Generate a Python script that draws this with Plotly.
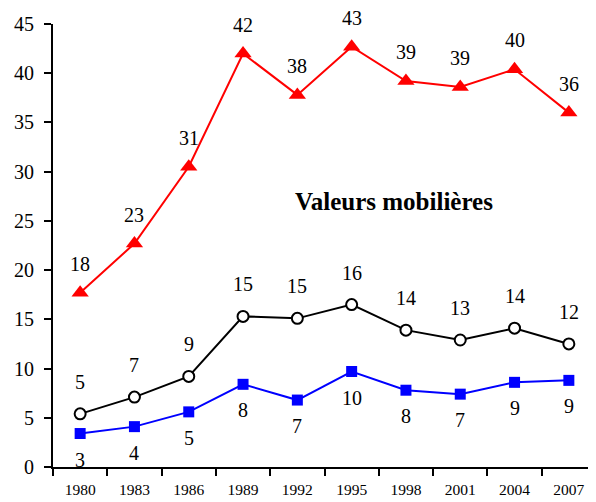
import plotly.graph_objects as go

years = ["1980", "1983", "1986", "1989", "1992", "1995", "1998", "2001", "2004", "2007"]
valeurs_mobilieres = [17.7, 22.7, 30.5, 42.0, 37.8, 42.7, 39.2, 38.6, 40.4, 36.0]
valeurs_mobilieres_labels = ["18", "23", "31", "42", "38", "43", "39", "39", "40", "36"]
serie_noire = [5.4, 7.1, 9.2, 15.3, 15.1, 16.5, 13.9, 12.9, 14.1, 12.5]
serie_noire_labels = ["5", "7", "9", "15", "15", "16", "14", "13", "14", "12"]
serie_bleue = [3.4, 4.1, 5.6, 8.4, 6.8, 9.7, 7.8, 7.4, 8.6, 8.8]
serie_bleue_labels = ["3", "4", "5", "8", "7", "10", "8", "7", "9", "9"]
y_ticks = [0, 5, 10, 15, 20, 25, 30, 35, 40, 45]

SERIF = "'Liberation Serif', 'Times New Roman', serif"

fig = go.Figure()
fig.add_trace(go.Scatter(
    x=years, y=valeurs_mobilieres, mode="lines+markers",
    line=dict(color="#ff0000", width=2),
    marker=dict(symbol="triangle-up", size=15, color="#ff0000"),
    showlegend=False))
fig.add_trace(go.Scatter(
    x=years, y=serie_noire, mode="lines+markers",
    line=dict(color="#000000", width=2),
    marker=dict(symbol="circle", size=11, color="#ffffff",
                line=dict(color="#000000", width=2)),
    showlegend=False))
fig.add_trace(go.Scatter(
    x=years, y=serie_bleue, mode="lines+markers",
    line=dict(color="#0000ff", width=2),
    marker=dict(symbol="square", size=11, color="#0000ff"),
    showlegend=False))

annotations = []
for vals, labels, shift in [(valeurs_mobilieres, valeurs_mobilieres_labels, 29),
                            (serie_noire, serie_noire_labels, 32),
                            (serie_bleue, serie_bleue_labels, -26)]:
    for i, (y, t) in enumerate(zip(vals, labels)):
        annotations.append(dict(x=i, y=y, xref="x", yref="y", text=t, showarrow=False,
                                yshift=shift, xanchor="center", yanchor="middle",
                                font=dict(family=SERIF, size=20, color="#000000")))
annotations.append(dict(xref="paper", yref="paper", x=0.628, y=0.600,
                        text="<b>Valeurs mobilières</b>", showarrow=False,
                        xanchor="center", yanchor="middle",
                        font=dict(family=SERIF, size=25, color="#000000")))

fig.update_layout(
    width=588, height=494,
    margin=dict(l=45, r=0, t=16, b=35),
    paper_bgcolor="white", plot_bgcolor="white",
    font=dict(family=SERIF),
    annotations=annotations,
    xaxis=dict(type="category", range=[-0.5, 9.5], tickson="boundaries",
               showline=True, linecolor="black", linewidth=2,
               ticks="outside", ticklen=7, tickwidth=2, tickcolor="black",
               showgrid=False, zeroline=False, ticklabelstandoff=7,
               tickfont=dict(family=SERIF, size=15.5, color="black")),
    yaxis=dict(range=[0, 45], tickvals=y_ticks,
               showline=True, linecolor="black", linewidth=2,
               ticks="outside", ticklen=7, tickwidth=2, tickcolor="black",
               showgrid=False, zeroline=False, ticklabelstandoff=6,
               tickfont=dict(family=SERIF, size=20, color="black")),
)

fig.write_html("out.html")
